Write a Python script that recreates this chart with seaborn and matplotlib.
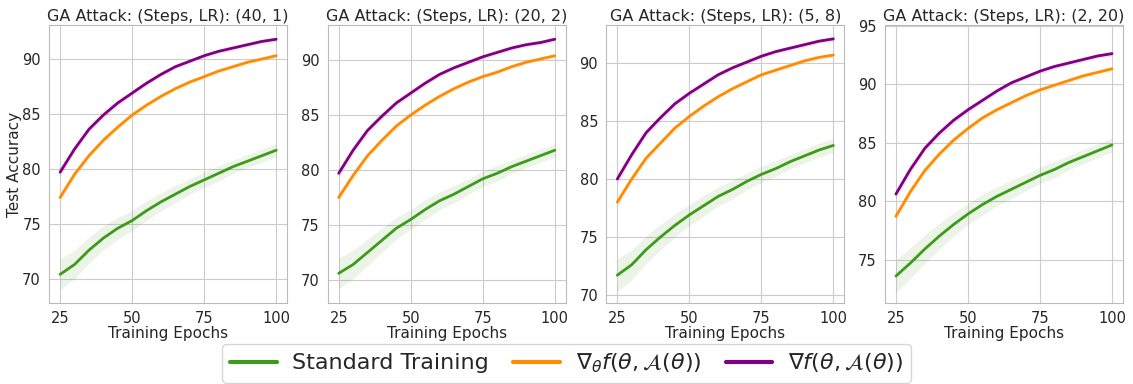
import numpy as np
import pandas as pd
import seaborn as sns
from matplotlib import pyplot as plt

epochs = [25, 30, 35, 40, 45, 50, 55, 60, 65, 70, 75, 80, 85, 90, 95, 100]

titles = ["GA Attack: (Steps, LR): (40, 1)", "GA Attack: (Steps, LR): (20, 2)",
          "GA Attack: (Steps, LR): (5, 8)", "GA Attack: (Steps, LR): (2, 20)"]

labels = ["Standard Training",
          r"$\nabla_\theta f(\theta, \mathcal{A}(\theta))$",
          r"$\nabla f(\theta, \mathcal{A}(\theta))$"]

# accuracy per panel, per method
standard = [
    [70.4, 71.3, 72.6, 73.7, 74.6, 75.3, 76.2, 77.0, 77.7, 78.4, 79.0, 79.6, 80.2, 80.7, 81.2, 81.7],
    [70.6, 71.4, 72.5, 73.6, 74.7, 75.5, 76.4, 77.2, 77.8, 78.5, 79.2, 79.7, 80.3, 80.8, 81.3, 81.8],
    [71.7, 72.6, 73.9, 75.0, 76.0, 76.9, 77.7, 78.5, 79.1, 79.8, 80.4, 80.9, 81.5, 82.0, 82.5, 82.9],
    [73.6, 74.7, 75.9, 77.0, 78.0, 78.9, 79.7, 80.4, 81.0, 81.6, 82.2, 82.7, 83.3, 83.8, 84.3, 84.8],
]
theta_grad = [
    [77.4, 79.5, 81.2, 82.6, 83.8, 84.9, 85.8, 86.6, 87.3, 87.9, 88.4, 88.9, 89.3, 89.7, 90.0, 90.3],
    [77.5, 79.5, 81.3, 82.7, 84.0, 85.0, 85.9, 86.7, 87.4, 88.0, 88.5, 88.9, 89.4, 89.8, 90.1, 90.4],
    [78.0, 80.0, 81.8, 83.1, 84.4, 85.4, 86.3, 87.1, 87.8, 88.4, 89.0, 89.4, 89.8, 90.2, 90.5, 90.7],
    [78.7, 80.8, 82.6, 84.0, 85.2, 86.2, 87.1, 87.8, 88.4, 89.0, 89.5, 89.9, 90.3, 90.7, 91.0, 91.3],
]
total_grad = [
    [79.7, 81.8, 83.6, 84.9, 86.0, 86.9, 87.8, 88.6, 89.3, 89.8, 90.3, 90.7, 91.0, 91.3, 91.6, 91.8],
    [79.7, 81.8, 83.6, 84.9, 86.1, 87.0, 87.9, 88.7, 89.3, 89.8, 90.3, 90.7, 91.1, 91.4, 91.6, 91.9],
    [80.0, 82.1, 84.0, 85.3, 86.5, 87.4, 88.2, 89.0, 89.6, 90.1, 90.6, 91.0, 91.3, 91.6, 91.9, 92.1],
    [80.6, 82.7, 84.5, 85.8, 86.9, 87.8, 88.6, 89.4, 90.1, 90.6, 91.1, 91.5, 91.8, 92.1, 92.4, 92.6],
]

# spread (std) per method, shared across panels
standard_std = [1.4, 1.3, 1.2, 1.1, 1.0, 0.9, 0.9, 0.8, 0.8, 0.7, 0.7, 0.7, 0.6, 0.6, 0.6, 0.6]
theta_std = [0.4, 0.35, 0.3, 0.3, 0.3, 0.25, 0.25, 0.2, 0.2, 0.2, 0.2, 0.2, 0.2, 0.2, 0.2, 0.2]
total_std = [0.4, 0.35, 0.3, 0.3, 0.3, 0.25, 0.25, 0.2, 0.2, 0.2, 0.2, 0.2, 0.2, 0.2, 0.2, 0.2]

ylims = [(67.8, 93.1), (67.9, 93.2), (69.3, 93.3), (71.3, 95.05)]

colors = ['#3d9a1b', '#ff8c00', '#800080']

sns.set_style("whitegrid")
plt.rcParams['font.family'] = ['DejaVu Sans']
plt.rcParams['mathtext.fontset'] = 'dejavusans'

fig, axes = plt.subplots(1, 4, figsize=(11.33, 3.84), dpi=100)
fig.subplots_adjust(left=0.0435, right=0.991, top=0.935, bottom=0.211, wspace=0.172)

for i, ax in enumerate(axes):
    df = pd.DataFrame({
        'epoch': epochs * 3,
        'acc': standard[i] + theta_grad[i] + total_grad[i],
        'method': [labels[0]] * len(epochs) + [labels[1]] * len(epochs) + [labels[2]] * len(epochs),
    })
    sns.lineplot(data=df, x='epoch', y='acc', hue='method', palette=colors,
                 linewidth=2, ax=ax, legend=(i == 0))
    for vals, std, c in zip([standard[i], theta_grad[i], total_grad[i]],
                            [standard_std, theta_std, total_std], colors):
        v = np.array(vals)
        s = np.array(std)
        ax.fill_between(epochs, v - s, v + s, color=c, alpha=0.1, linewidth=0)
    ax.set_title(titles[i], fontsize=11.5, pad=3)
    ax.set_xlabel('Training Epochs', fontsize=11, labelpad=0)
    ax.set_ylabel('Test Accuracy' if i == 0 else '', fontsize=11, labelpad=0)
    ax.set_xticks([25, 50, 75, 100])
    ax.set_ylim(*ylims[i])
    ax.tick_params(labelsize=10.5, pad=2.5)
    for sp in ax.spines.values():
        sp.set_color('#bbbbbb')

handles, lbls = axes[0].get_legend_handles_labels()
axes[0].get_legend().remove()
leg = fig.legend(handles, lbls, loc='lower center', ncol=3, fontsize=16,
                 bbox_to_anchor=(0.5, 0.003), borderaxespad=0, handlelength=2.1,
                 handletextpad=0.7, columnspacing=1.1, borderpad=0.35, frameon=True)
for h in leg.legend_handles:
    h.set_linewidth(3)

plt.savefig('out.png', dpi=100)
